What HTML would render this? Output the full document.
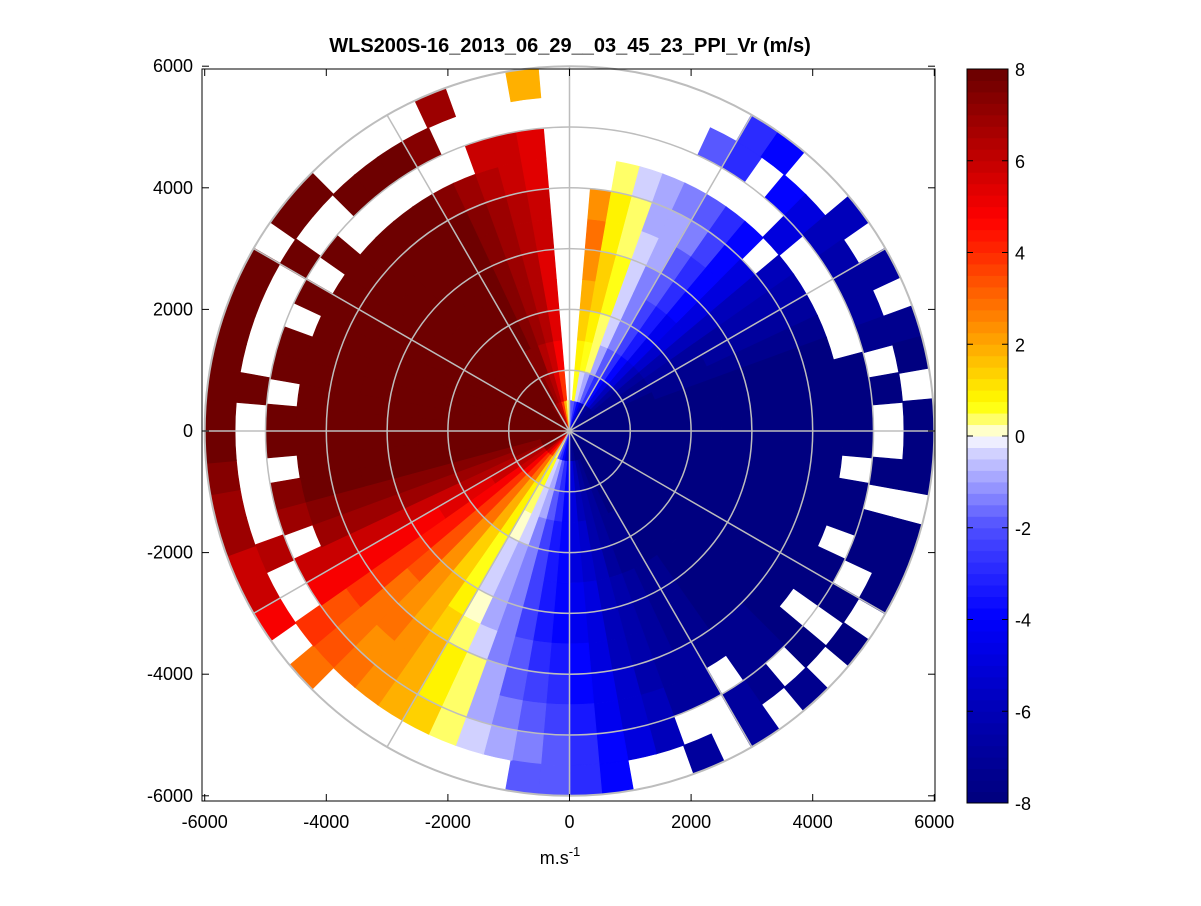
<!DOCTYPE html>
<html><head><meta charset="utf-8"><style>
html,body{margin:0;padding:0;background:#fff;}
svg text{font-family:"Liberation Sans",Arial,sans-serif;}
</style></head><body>
<svg id="chart" width="1201" height="901" xmlns="http://www.w3.org/2000/svg">
<rect x="0" y="0" width="1201" height="901" fill="#fff"/>
<g id="cells"></g>
<g id="grid"></g>
<rect x="202" y="69" width="733" height="732" fill="none" stroke="#000" stroke-width="1"/>
<g id="axes"></g>
<g id="cbar"></g>
<text x="570" y="52" font-size="20" font-weight="bold" text-anchor="middle">WLS200S-16_2013_06_29__03_45_23_PPI_Vr (m/s)</text>
<text x="560" y="864" font-size="18" text-anchor="middle">m.s<tspan dy="-8" font-size="13">-1</tspan></text>
</svg>
<script>
const n=null;
const azimuthStart=2.5, azimuthStep=5;
const rangeEdges=[0,500,1000,1500,2000,2500,3000,3500,4000,4500,5000,5500,6000];
const velocity=[
[-2,n,n,n,n,n,n,n,n,n,n,n],
[-2,0.7,1,1.5,2,2.5,3,2.5,n,n,n,n],
[-3,-0.5,0.7,1,1.5,1.5,1,1,0.5,n,n,n],
[-4,-1,0.5,0.5,0.7,0.7,0.5,0.5,-0.5,n,n,n],
[-5,-2,-1,-0.5,-0.5,-0.5,-0.3,-1,-1,n,n,n],
[-6,-3,-2,-1.5,-1.5,-1.5,-1,-1,-1.5,n,-2,n],
[-7,-4,-3,-2.5,-2.5,-2,-2,-1.5,-2,n,-3,-3],
[-7,-5,-4,-3.5,-3.5,-3,-3,-2.5,-3,n,n,-4],
[-7.5,-6,-5,-4.5,-4.5,-4,-4,-4,-4,n,-4,n],
[-7.5,-7,-6,-5.5,-5,-5,-5,-5,n,-5,-5,n],
[-7.5,-7.5,-7,-6.5,-6,-6,-6,-6,-6,n,-6,-6],
[-8,-7.5,-7.5,-7,-7,-7,-6.5,-6.5,-6.5,n,-6.5,n],
[-8,-8,-7.5,-7.5,-7.5,-7,-7,-7,-7,n,-7,-7],
[-8,-8,-8,-7.5,-7.5,-7.5,-7.5,-7.5,-7.5,n,-7,n],
[-8,-8,-8,-8,-8,-8,-8,-8,-8,n,-7.5,-7.5],
[-8,-8,-8,-8,-8,-8,-8,-8,-8,-8,n,-8],
[-8,-8,-8,-8,-8,-8,-8,-8,-8,-8,-8,n],
[-8,-8,-8,-8,-8,-8,-8,-8,-8,-8,n,-8],
[-8,-8,-8,-8,-8,-8,-8,-8,-8,-8,n,-8],
[-8,-8,-8,-8,-8,-8,-8,-8,-8,n,-8,-8],
[-8,-8,-8,-8,-8,-8,-8,-8,-8,-8,n,n],
[-8,-8,-8,-8,-8,-8,-8,-8,-8,-8,-8,-8],
[-8,-8,-8,-8,-8,-8,-8,-8,-8,n,-8,-8],
[-8,-8,-8,-8,-8,-8,-8,-8,-8,-8,n,-8],
[-8,-8,-8,-8,-8,-8,-8,-8,-8,-8,-8,n],
[-8,-8,-8,-8,-8,-8,-8,-8,-8,n,n,-8],
[-8,-8,-8,-8,-8,-8,-8,-8,-8,-8,-8,n],
[-8,-8,-8,-8,-8,-8,-8,-8,-7.5,-7.5,n,-7.5],
[-8,-8,-8,-8,-8,-8,-8,-8,-7.5,-7.5,-7.5,n],
[-8,-8,-8,-8,-8,-7.5,-7.5,-7.5,-7.5,n,-7,-7],
[-8,-8,-8,-7.5,-7.5,-7.5,-7.5,-7.5,-7,-7,n,n],
[-8,-8,-7.5,-7.5,-7.5,-7,-7,-7,-7,-7,n,-7],
[-8,-7.5,-7,-7,-7,-6.5,-6.5,-6.5,-6.5,-6,-6,n],
[-8,-7,-6.5,-6.5,-6,-6,-6,-6,-5.5,-5.5,-5,n],
[-7.5,-6,-6,-5.5,-5.5,-5,-5,-5,-4.5,-4.5,-4,-4],
[-7,-5,-5,-5,-5,-4.5,-4.5,-4,-4,-3.5,-3,-3],
[-6,-4,-4,-4,-4,-4,-4,-3.5,-3,-2.5,-2,-2],
[-5,-3,-3,-3.5,-3.5,-3.5,-3.5,-3,-2.5,-2,-1.5,-2],
[-4,-2,-2,-2.5,-2.5,-2.5,-2.5,-2,-2,-1.5,-1,n],
[-3,-1,-1,-1.5,-1.5,-1.5,-1.5,-1.5,-1,-1,-0.5,n],
[-2,-0.3,-0.5,-0.5,-1,-1,-1,-0.5,0.5,0.5,0.5,n],
[0.5,0.7,0.3,0,-0.3,-0.3,0,0.5,1,1,1.5,n],
[2,1.5,1,1,0.7,0.7,1,1.5,2,2,2,n],
[4,3,2,2,1.5,1.5,2,2,2.5,2.5,2.5,n],
[5,4,3,3,2.5,2.5,2.5,2.5,3,2.5,3,n],
[6,5,4,4,3.5,3.5,3.5,3,3,3,3.5,3],
[7,6,5,5,4.5,4.5,4,4,4,3.5,4,n],
[7.5,6.5,6,5.5,5.5,5,5,5,5,5,n,5],
[8,7,6.5,6.5,6,6,6,6,6,6,n,6],
[8,7.5,7,7,7,7,7,7,7,n,6.5,6],
[8,7.5,7.5,7.5,7.5,7.5,7.5,7.5,7.5,7,n,7],
[8,8,8,8,8,8,8,8,8,7.5,n,7],
[8,8,8,8,8,8,8,8,8,n,n,7.5],
[8,8,8,8,8,8,8,8,8,8,n,8],
[8,8,8,8,8,8,8,8,8,8,n,8],
[8,8,8,8,8,8,8,8,8,n,8,8],
[8,8,8,8,8,8,8,8,8,8,n,8],
[8,8,8,8,8,8,8,8,8,8,n,8],
[8,8,8,8,8,8,8,8,8,n,n,8],
[8,8,8,8,8,8,8,8,8,8,n,8],
[8,8,8,8,8,8,8,8,8,n,8,n],
[8,8,8,8,8,8,8,8,8,8,n,8],
[8,8,8,8,8,8,8,8,8,n,n,8],
[8,8,8,8,8,8,8,8,8,n,8,n],
[8,8,8,8,8,8,8,8,8,n,8,n],
[7.5,8,8,8,8,8,8,8,8,n,8,n],
[7,7.5,7.5,8,8,8,8,8,7.5,n,7.5,n],
[6.5,7,7.5,7.5,7.5,7.5,7.5,7.5,7,n,n,7],
[6,6.5,6.5,7,7,7,7,7,6.5,6,n,n],
[4,5.5,6,6.5,6.5,6.5,6.5,6.5,6,6,n,n],
[2,4,5,5.5,5.5,5.5,6,6,5.5,5.5,n,2],
[0.5,n,n,n,n,n,n,n,n,n,n,n]
];
const axisTicks=[-6000,-4000,-2000,0,2000,4000,6000];
const ringRadii=[1000,2000,3000,4000,5000,6000];
const spokeAngles=[0,30,60,90,120,150];
const cbarTicks=[-8,-6,-4,-2,0,2,4,6,8];
const cmapStops=[[-8,0,0,128],[-6,0,0,185],[-4,0,0,255],[-2,80,80,255],[-0.3,215,215,255],[0,255,255,255],[0.3,255,255,130],[0.7,255,255,0],[2,255,170,0],[4,255,45,0],[4.8,255,0,0],[6,200,0,0],[8,110,0,0]];

const NS='http://www.w3.org/2000/svg';
const cx=569.5, cy=431, k=0.0608;
const X=v=>cx+v*k, Y=v=>cy-v*k;
function color(v){
  const q=Math.round((v+8)/16*63)/63*16-8;
  for(let i=1;i<cmapStops.length;i++){const a=cmapStops[i-1],b=cmapStops[i];
    if(q<=b[0]){const t=(q-a[0])/(b[0]-a[0]);return `rgb(${Math.round(a[1]+t*(b[1]-a[1]))},${Math.round(a[2]+t*(b[2]-a[2]))},${Math.round(a[3]+t*(b[3]-a[3]))})`;}}
  return 'rgb(110,0,0)';
}
function pt(az,r){const a=az*Math.PI/180;return [X(r*Math.sin(a)),Y(r*Math.cos(a))];}
const cells=document.getElementById('cells');
velocity.forEach((row,i)=>{
  const az=azimuthStart+i*azimuthStep;
  row.forEach((v,j)=>{
    if(v===null)return;
    const r0=rangeEdges[j],r1=rangeEdges[j+1],a0=az-azimuthStep/2-0.1,a1=az+azimuthStep/2+0.1;
    const p1=pt(a0,r0),p2=pt(a0,r1),p3=pt(a1,r1),p4=pt(a1,r0);
    const R1=r1*k,R0=r0*k;
    const d=`M${p1}L${p2}A${R1},${R1} 0 0 1 ${p3}L${p4}`+(R0>0?`A${R0},${R0} 0 0 0 ${p1}`:'')+'Z';
    const el=document.createElementNS(NS,'path');
    el.setAttribute('d',d);el.setAttribute('fill',color(v));el.setAttribute('stroke',color(v));el.setAttribute('stroke-width','0.6');
    
    
    cells.appendChild(el);
  });
});
const grid=document.getElementById('grid');
ringRadii.forEach(r=>{
  const c=document.createElementNS(NS,'circle');
  c.setAttribute('cx',cx);c.setAttribute('cy',cy);c.setAttribute('r',r*k);
  c.setAttribute('fill','none');c.setAttribute('stroke','#bdbdbd');c.setAttribute('stroke-width',r===6000?'2':'1.5');
  
  
  grid.appendChild(c);
});
spokeAngles.forEach(a=>{
  const p=pt(a,6000),q=pt(a+180,6000);
  const l=document.createElementNS(NS,'line');
  l.setAttribute('x1',p[0]);l.setAttribute('y1',p[1]);l.setAttribute('x2',q[0]);l.setAttribute('y2',q[1]);
  l.setAttribute('stroke','#bdbdbd');l.setAttribute('stroke-width','1.5');
  
  
  grid.appendChild(l);
});
const axes=document.getElementById('axes');
function add(parent,tag,attrs,txt){const e=document.createElementNS(NS,tag);for(const a in attrs)e.setAttribute(a,attrs[a]);if(txt!==undefined)e.textContent=txt;parent.appendChild(e);return e;}
axisTicks.forEach(t=>{
  const x=X(t),y=Y(t);
  add(axes,'line',{x1:x,y1:801,x2:x,y2:794,stroke:'#000'});
  add(axes,'line',{x1:x,y1:69,x2:x,y2:76,stroke:'#000'});
  const tx=add(axes,'text',{x:x,y:828,'font-size':18,'text-anchor':'middle'},t);
  
  
  add(axes,'line',{x1:202,y1:y,x2:209,y2:y,stroke:'#000'});
  add(axes,'line',{x1:935,y1:y,x2:928,y2:y,stroke:'#000'});
  const ty=add(axes,'text',{x:193,y:y+6,'font-size':18,'text-anchor':'end'},t);
  
  
});
const cb=document.getElementById('cbar');
const cbTop=69,cbBot=803,cbX=967,cbW=41;
for(let i=0;i<64;i++){
  const v=-8+(i+0.5)*16/64;
  const y0=cbBot-(i+1)*(cbBot-cbTop)/64;
  const r=add(cb,'rect',{x:cbX,y:y0,width:cbW,height:(cbBot-cbTop)/64+0.5,fill:color(v)});
  
  
}
add(cb,'rect',{x:cbX,y:cbTop,width:cbW,height:cbBot-cbTop,fill:'none',stroke:'#000'});
cbarTicks.forEach(t=>{
  const y=cbBot-(t+8)/16*(cbBot-cbTop);
  add(cb,'line',{x1:cbX,y1:y,x2:cbX+6,y2:y,stroke:'#000'});
  add(cb,'line',{x1:cbX+cbW,y1:y,x2:cbX+cbW-6,y2:y,stroke:'#000'});
  const l=add(cb,'text',{x:1015,y:y+7,'font-size':18},t);
  
  
});
</script>
</body></html>
